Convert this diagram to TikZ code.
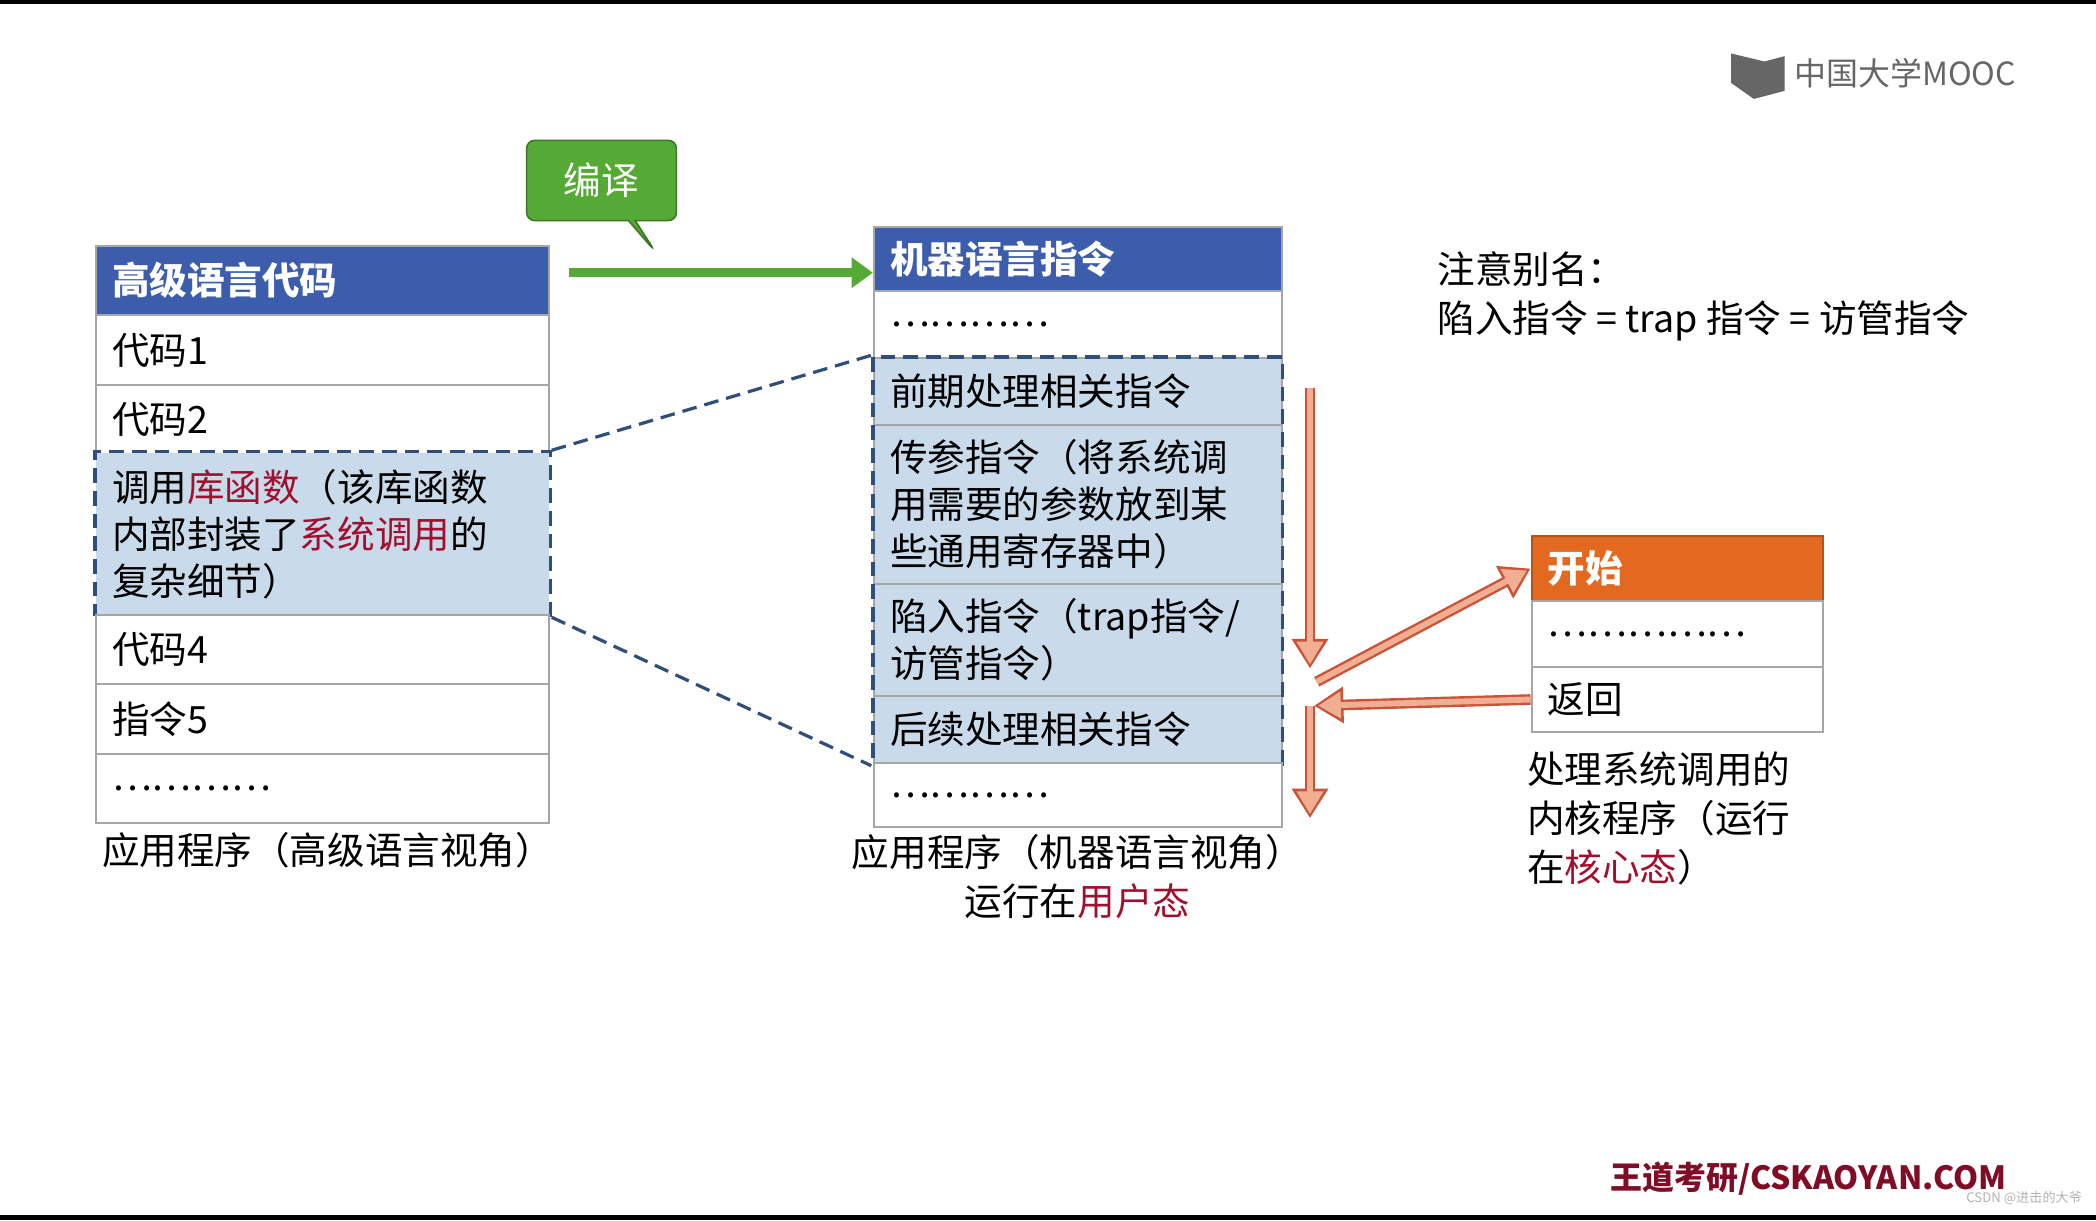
\documentclass[tikz,border=0pt]{standalone}
\usepackage{fontspec}
\setmainfont{Noto Sans CJK SC}
\usetikzlibrary{arrows.meta,shapes.callouts,fit}
\definecolor{hblue}{HTML}{3B5DAC}
\definecolor{lblue}{HTML}{C9DBEA}
\definecolor{dblue}{HTML}{2F4E79}
\definecolor{orng}{HTML}{E2691F}
\definecolor{salm}{HTML}{F2AE92}
\definecolor{salmd}{HTML}{C8553A}
\definecolor{grn}{HTML}{55AA35}
\definecolor{kred}{HTML}{A0102E}
\tikzset{
 cell/.style={draw=gray!70, line width=0.08cm, fill=white, anchor=north west, inner xsep=0.6cm, inner ysep=0pt, align=left, font=\fontsize{40}{50}\selectfont},
 lcell/.style={cell, text width=15.75cm, minimum height=2.6cm},
 mcell/.style={cell, text width=14.05cm, minimum height=2.5cm},
 rcell/.style={cell, text width=9.7cm, minimum height=2.45cm},
 head/.style={fill=hblue, text=white, font=\fontsize{40}{50}\selectfont\bfseries},
 dashbox/.style={draw=dblue, dash pattern=on 0.55cm off 0.3cm, line width=0.12cm, inner sep=0pt},
 captext/.style={font=\fontsize{40}{52}\selectfont, align=left},
 fat/.style={draw=salmd, line width=0.4cm, -{Triangle[length=1.1cm,width=1.3cm]}},
 fatin/.style={draw=salm, line width=0.22cm, -{Triangle[length=0.85cm,width=0.95cm]}, shorten >=0.15cm},
}
\begin{document}
\begin{tikzpicture}[x=0.05cm,y=-0.05cm]
\useasboundingbox (0,0) rectangle (1568,913);
\fill[black] (0,0) rectangle (1568,3);
\fill[black] (0,909) rectangle (1568,913);
% left table
\node[lcell,head] (l0) at (71,183) {高级语言代码};
\node[lcell] (l1) at (71,235) {代码1};
\node[lcell] (l2) at (71,287) {代码2};
\node[lcell, fill=lblue, minimum height=6.05cm, draw=none] (l3) at (71,338) {调用\textcolor{kred}{库函数}（该库函数\\内部封装了\textcolor{kred}{系统调用}的\\复杂细节）};
\node[dashbox, fit=(l3)] (l3b) {};
\node[lcell] (l4) at (71,459) {代码4};
\node[lcell] (l5) at (71,511) {指令5};
\node[lcell] (l6) at (71,563) {…………};
\node[captext, anchor=north] (lc) at (245,620) {应用程序（高级语言视角）};
% middle
\node[mcell,head, minimum height=2.4cm] (m0) at (653,169) {机器语言指令};
\node[mcell] (m1) at (653,217) {…………};
\node[mcell, fill=lblue] (m2) at (653,267) {前期处理相关指令};
\node[mcell, fill=lblue, minimum height=5.95cm] (m3) at (653,317) {传参指令（将系统调\\用需要的参数放到某\\些通用寄存器中）};
\node[mcell, fill=lblue, minimum height=4.2cm] (m4) at (653,436) {陷入指令（trap指令/\\访管指令）};
\node[mcell, fill=lblue] (m5) at (653,520) {后续处理相关指令};
\node[dashbox, fit=(m2)(m5)] (mb) {};
\node[mcell, minimum height=2.4cm] (m6) at (653,570) {…………};
\node[captext, anchor=north, align=center] (mc) at (806,622) {应用程序（机器语言视角）\\运行在\textcolor{kred}{用户态}};
% right
\node[rcell, fill=orng, text=white, draw=orng!80!black, font=\fontsize{40}{50}\selectfont\bfseries] (r0) at (1145,400) {开始};
\node[rcell] (r1) at (1145,449) {……………};
\node[rcell] (r2) at (1145,498) {返回};
\node[captext, anchor=north west] (rc) at (1140,560) {处理系统调用的\\内核程序（运行\\在\textcolor{kred}{核心态}）};
% dashed connectors
\draw[dashbox] (l3b.north east) -- (mb.north west);
\draw[dashbox] (l3b.south east) -- (mb.south west);
% compile
\node[rectangle callout, rounded corners=0.3cm, fill=grn, draw=grn!70!black, line width=0.06cm, text=white, minimum width=5.6cm, minimum height=3cm, font=\fontsize{40}{48}\selectfont, callout absolute pointer={(490,188)}] (cp) at (450,135) {编译};
\coordinate (ga) at (426,204);
\draw[grn, line width=0.35cm, -{Triangle[length=0.8cm,width=1.1cm]}] (ga) -- (m0.west |- ga);
% orange arrows
\coordinate (d1a) at (980,290); \coordinate (d1b) at (980,500);
\coordinate (d2a) at (980,528); \coordinate (d2b) at (980,612);
\coordinate (e1) at (985,510);
\coordinate (e2) at (983,528);
\foreach \a/\b in {d1a/d1b,d2a/d2b,e1/r0.west,r2.west/e2}{
 \draw[fat] (\a) -- (\b);
 \draw[fatin] (\a) -- (\b);
}
% notes
\node[captext, anchor=west] (nt) at (1073,222) {注意别名：\\陷入指令 = trap 指令 = 访管指令};
\node[font=\fontsize{34}{40}\selectfont, text=gray!80!black, anchor=west] (logo) at (1340,55) {中国大学MOOC};
\fill[gray!80!black] (1295,40) -- (1320,46) -- (1335,42) -- (1335,68) -- (1312,74) -- (1295,62) -- cycle;
\node[font=\fontsize{34}{40}\selectfont\bfseries, text=kred!80!black] (wd) at (1353,882) {王道考研/CSKAOYAN.COM};
\node[font=\fontsize{14}{16}\selectfont, text=gray!60, anchor=east] (csdn) at (1560,896) {CSDN @进击的大爷};
\end{tikzpicture}
\end{document}
